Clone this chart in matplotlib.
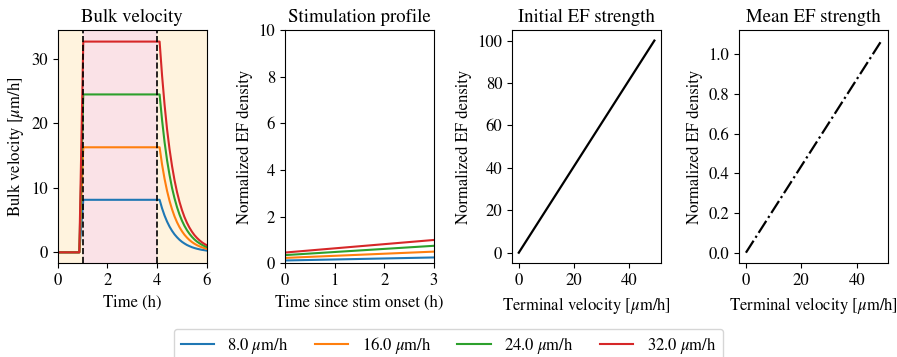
import matplotlib
matplotlib.use("Agg")
import matplotlib.pyplot as plt

plt.rcParams['font.family'] = ['STIXGeneral', 'Liberation Serif', 'DejaVu Serif']
plt.rcParams['mathtext.fontset'] = 'stix'
plt.rcParams['font.size'] = 12

# ---------------- data ----------------
labels = ["8.0 $\\mu$m/h", "16.0 $\\mu$m/h", "24.0 $\\mu$m/h", "32.0 $\\mu$m/h"]
colors = ["tab:blue", "tab:orange", "tab:green", "tab:red"]

t_bulk = [0.0, 0.87, 1.03, 4.1, 4.2, 4.3, 4.4, 4.5, 4.6, 4.7, 4.8, 4.9, 5.0,
          5.1, 5.2, 5.3, 5.4, 5.5, 5.6, 5.7, 5.8, 5.9, 6.0]
bulk_blue = [0, 0, 8.15, 8.15, 6.82, 5.70, 4.77, 3.99, 3.34, 2.79, 2.34, 1.95, 1.63,
             1.37, 1.14, 0.96, 0.80, 0.67, 0.56, 0.47, 0.39, 0.33, 0.27]
bulk_orange = [0, 0, 16.3, 16.3, 13.6, 11.4, 9.54, 7.98, 6.68, 5.58, 4.67, 3.91, 3.27,
               2.73, 2.29, 1.91, 1.60, 1.34, 1.12, 0.94, 0.78, 0.66, 0.55]
bulk_green = [0, 0, 24.5, 24.5, 20.5, 17.1, 14.3, 12.0, 10.0, 8.39, 7.02, 5.87, 4.91,
              4.11, 3.44, 2.88, 2.41, 2.01, 1.68, 1.41, 1.18, 0.98, 0.82]
bulk_red = [0, 0, 32.7, 32.7, 27.4, 22.9, 19.1, 16.0, 13.4, 11.2, 9.37, 7.84, 6.56,
            5.48, 4.59, 3.84, 3.21, 2.68, 2.25, 1.88, 1.57, 1.31, 1.10]
bulk = [bulk_blue, bulk_orange, bulk_green, bulk_red]

t_stim = [0.0, 0.0, 3.0]
stim_blue = [16.3, 0.12, 0.25]
stim_orange = [32.7, 0.23, 0.50]
stim_green = [49.0, 0.35, 0.75]
stim_red = [65.3, 0.46, 1.00]
stim = [stim_blue, stim_orange, stim_green, stim_red]

term_vel = [0.0, 49.0]
init_ef = [0.0, 100.0]
mean_ef = [0.0, 1.07]

# ---------------- figure ----------------
fig, axes = plt.subplots(1, 4, figsize=(8.97, 3.57), dpi=100)
fig.subplots_adjust(left=0.0643, right=0.9903, top=0.916, bottom=0.2625, wspace=0.523)

ax = axes[0]
ax.axvspan(0, 1, color='orange', alpha=0.13, lw=0)
ax.axvspan(1, 4, color='crimson', alpha=0.12, lw=0)
ax.axvspan(4, 6, color='orange', alpha=0.13, lw=0)
lines = []
for vals, c, lab in zip(bulk, colors, labels):
    l, = ax.plot(t_bulk, vals, color=c, lw=1.5, label=lab)
    lines.append(l)
ax.axvline(1, color='k', ls='--', lw=1.2)
ax.axvline(4, color='k', ls='--', lw=1.2)
ax.set_xlim(0, 6)
ax.set_ylim(-1.7, 34.5)
ax.set_xticks([0, 2, 4, 6])
ax.set_yticks([0, 10, 20, 30])
ax.set_title("Bulk velocity", fontsize=13.5)
ax.set_xlabel("Time (h)")
ax.set_ylabel("Bulk velocity [$\\mu$m/h]")

ax = axes[1]
for vals, c in zip(stim, colors):
    ax.plot(t_stim, vals, color=c, lw=1.5)
ax.set_xlim(0, 3)
ax.set_ylim(0, 10)
ax.set_xticks([0, 1, 2, 3])
ax.set_title("Stimulation profile", fontsize=13.5)
ax.set_xlabel("Time since stim onset (h)")
ax.set_ylabel("Normalized EF density")

ax = axes[2]
ax.plot(term_vel, init_ef, color='k', lw=1.6)
ax.set_xticks([0, 20, 40])
ax.set_title("Initial EF strength", fontsize=13.5)
ax.set_xlabel("Terminal velocity [$\\mu$m/h]")
ax.set_ylabel("Normalized EF density")

ax = axes[3]
ax.plot(term_vel, mean_ef, color='k', lw=1.6, ls='-.')
ax.set_xticks([0, 20, 40])
ax.set_title("Mean EF strength", fontsize=13.5)
ax.set_xlabel("Terminal velocity [$\\mu$m/h]")
ax.set_ylabel("Normalized EF density")

fig.legend(handles=lines, loc='upper center', bbox_to_anchor=(0.5, 0.103), ncol=4,
           frameon=True, columnspacing=1.57)

fig.savefig("out.png", dpi=100)
